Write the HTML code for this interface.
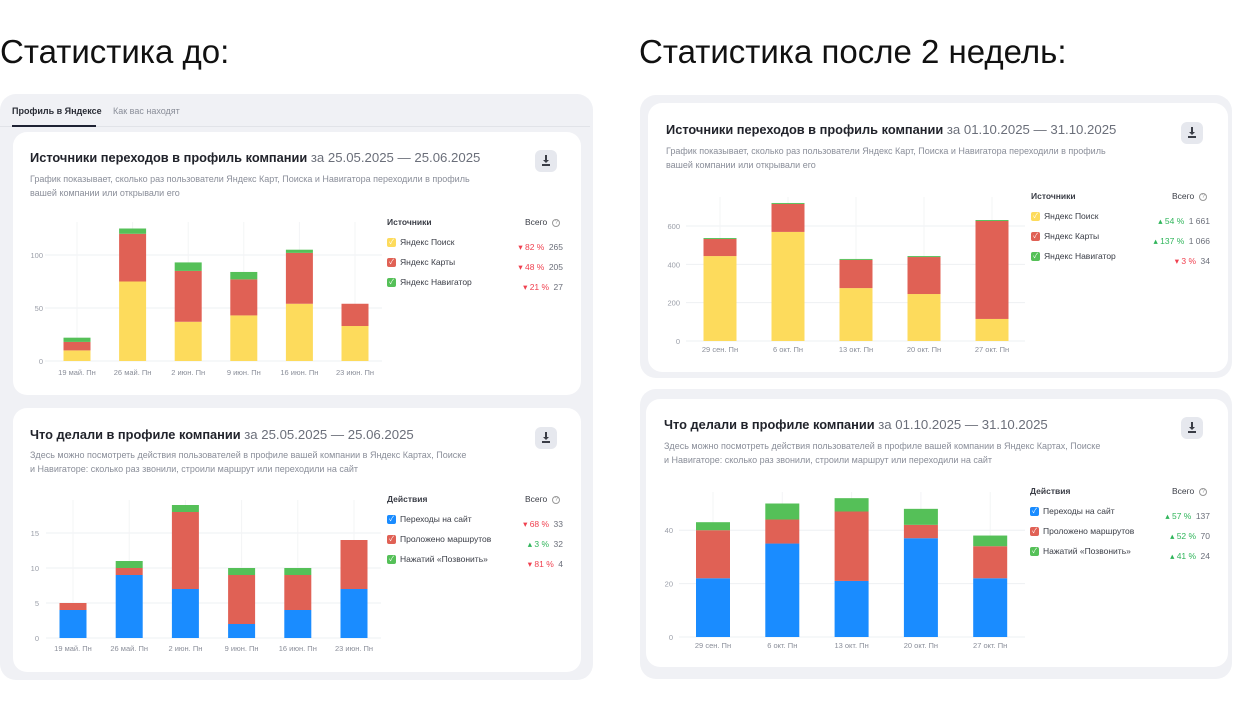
<!DOCTYPE html>
<html><head><meta charset="utf-8">
<style>
*{margin:0;padding:0;box-sizing:border-box}
body{width:1260px;height:706px;background:#fff;position:relative;overflow:hidden;font-family:"Liberation Sans","Noto Sans CJK SC",sans-serif;color:#21232b}
.abs{position:absolute;white-space:nowrap}
.h1{font-size:33px;color:#111;top:33px}
.panel{position:absolute;background:#f0f1f5;border-radius:16px}
.card{position:absolute;background:#fff;border-radius:14px}
.title{font-size:12.8px;font-weight:bold;color:#21232b}
.title span{font-weight:normal;color:#6b6f7a;font-size:13.2px}
.sub{font-size:9px;color:#8a8e99;line-height:14px}
.dl{position:absolute;width:22px;height:22px;border-radius:6px;background:#e6e8ee}
.dl i{position:absolute;left:7px;top:5px;width:8px;height:11px;border-bottom:2px solid #3a3d46}
.dl i:before{content:"";position:absolute;left:3px;top:0;width:2px;height:6px;background:#3a3d46}
.dl i:after{content:"";position:absolute;left:1px;top:5px;border-left:3px solid transparent;border-right:3px solid transparent;border-top:3px solid #3a3d46}
.lh{font-size:8.5px;font-weight:bold;color:#3a3d46}
.li{font-size:8.5px;color:#3a3d46}
.cb{position:absolute;width:9px;height:9px;border-radius:2px;color:#fff;font-size:7px;line-height:9px;text-align:center}
.pct{font-size:8.5px}
.up{color:#2fb55a}.dn{color:#f0404f}
.val{font-size:8.5px;color:#6b6f7a}
.q{display:inline-block;width:8px;height:8px;border:1px solid #999;border-radius:50%;font-size:6px;line-height:6px;text-align:center;color:#999;margin-left:5px;vertical-align:middle}
</style></head><body>
<div class="abs h1" style="left:0">Статистика до:</div>
<div class="abs h1" style="left:639px">Статистика после 2 недель:</div>

<div class="panel" style="left:0;top:94px;width:593px;height:586px"></div>
<div class="abs" style="left:12px;top:106px;font-size:9px;font-weight:bold;color:#2a2d36">Профиль в Яндексе</div>
<div class="abs" style="left:113px;top:106px;font-size:9px;color:#8a8e99">Как вас находят</div>
<div class="abs" style="left:0;top:126px;width:590px;height:1px;background:#e1e3e8"></div>
<div class="abs" style="left:12px;top:125px;width:84px;height:2px;background:#1e2233"></div>

<div class="card" style="left:13px;top:132px;width:568px;height:263px"></div>
<div class="card" style="left:13px;top:408px;width:568px;height:264px"></div>

<div class="panel" style="left:640px;top:95px;width:592px;height:283px"></div>
<div class="card" style="left:648px;top:103px;width:580px;height:269px"></div>
<div class="panel" style="left:640px;top:389px;width:592px;height:290px"></div>
<div class="card" style="left:646px;top:399px;width:582px;height:268px"></div>

<div class="abs title" style="left:30px;top:150px">Источники переходов в профиль компании <span>за 25.05.2025 — 25.06.2025</span></div>
<div class="abs sub" style="left:30px;top:172px">График показывает, сколько раз пользователи Яндекс Карт, Поиска и Навигатора переходили в профиль<br>вашей компании или открывали его</div>
<div class="dl" style="left:535px;top:150px"><i></i></div>

<div class="abs title" style="left:30px;top:427px">Что делали в профиле компании <span>за 25.05.2025 — 25.06.2025</span></div>
<div class="abs sub" style="left:30px;top:448px">Здесь можно посмотреть действия пользователей в профиле вашей компании в Яндекс Картах, Поиске<br>и Навигаторе: сколько раз звонили, строили маршрут или переходили на сайт</div>
<div class="dl" style="left:535px;top:427px"><i></i></div>

<div class="abs title" style="left:666px;top:122px">Источники переходов в профиль компании <span>за 01.10.2025 — 31.10.2025</span></div>
<div class="abs sub" style="left:666px;top:144px">График показывает, сколько раз пользователи Яндекс Карт, Поиска и Навигатора переходили в профиль<br>вашей компании или открывали его</div>
<div class="dl" style="left:1181px;top:122px"><i></i></div>

<div class="abs title" style="left:664px;top:417px">Что делали в профиле компании <span>за 01.10.2025 — 31.10.2025</span></div>
<div class="abs sub" style="left:664px;top:439px">Здесь можно посмотреть действия пользователей в профиле вашей компании в Яндекс Картах, Поиске<br>и Навигаторе: сколько раз звонили, строили маршрут или переходили на сайт</div>
<div class="dl" style="left:1181px;top:417px"><i></i></div>

<svg id="svg" width="1260" height="706" style="position:absolute;left:0;top:0"></svg>
<div id="legends"></div>

<script>
// Chart 1: sources before
const c1Cats=["19 май. Пн","26 май. Пн","2 июн. Пн","9 июн. Пн","16 июн. Пн","23 июн. Пн"];
const c1Search=[10,75,37,43,54,33];
const c1Maps=[8,45,48,34,48,21];
const c1Nav=[4,5,8,7,3,0];
const c1Ticks=[0,50,100];
// Chart 2: actions before
const c2Cats=["19 май. Пн","26 май. Пн","2 июн. Пн","9 июн. Пн","16 июн. Пн","23 июн. Пн"];
const c2Site=[4,9,7,2,4,7];
const c2Route=[1,1,11,7,5,7];
const c2Call=[0,1,1,1,1,0];
const c2Ticks=[0,5,10,15];
// Chart 3: sources after
const c3Cats=["29 сен. Пн","6 окт. Пн","13 окт. Пн","20 окт. Пн","27 окт. Пн"];
const c3Search=[443,569,276,245,115];
const c3Maps=[89,146,147,193,511];
const c3Nav=[5,5,5,5,5];
const c3Ticks=[0,200,400,600];
// Chart 4: actions after
const c4Cats=["29 сен. Пн","6 окт. Пн","13 окт. Пн","20 окт. Пн","27 окт. Пн"];
const c4Site=[22,35,21,37,22];
const c4Route=[18,9,26,5,12];
const c4Call=[3,6,5,6,4];
const c4Ticks=[0,20,40];

const Y='#fddb5c',R='#e06155',G='#55c058',B='#1a8cff';
const NS='http://www.w3.org/2000/svg';
const svg=document.getElementById('svg');
function mk(tag,attrs){const e=document.createElementNS(NS,tag);for(const k in attrs)e.setAttribute(k,attrs[k]);svg.appendChild(e);return e;}

function chart(cfg){
  const {x0,x1,y0,yTop,pxPerUnit,cats,series,colors,ticks,barW,firstC,step,labelX,labelY,name}=cfg;
  const yS=v=>y0-v*pxPerUnit;
  const xS=i=>firstC+i*step;
  ticks.forEach(t=>{
    const gl=mk('line',{x1:x0,x2:x1,y1:yS(t),y2:yS(t),stroke:'#eef0f3','stroke-width':1});
    
    
    const tl=mk('text',{x:labelX,y:yS(t)+3,'text-anchor':'end','font-size':7.5,fill:'#9a9ea8','font-family':'Liberation Sans, sans-serif'});
    tl.textContent=t;
    
    
  });
  cats.forEach((c,i)=>{
    const vl=mk('line',{x1:xS(i),x2:xS(i),y1:yTop,y2:y0,stroke:'#f3f4f6','stroke-width':1});
    
    
  });
  cats.forEach((c,i)=>{
    let acc=0;
    series.forEach((s,k)=>{
      const v=s[i];
      if(v>0){
        const r=mk('rect',{x:xS(i)-barW/2,y:yS(acc+v),width:barW,height:v*pxPerUnit,fill:colors[k]});
        
        
      }
      acc+=v;
    });
    const t=mk('text',{x:xS(i),y:labelY,'text-anchor':'middle','font-size':7.5,fill:'#8a8e99','font-family':'Liberation Sans, sans-serif'});
    t.textContent=c;
    
    
  });
}
chart({name:'sources-before',x0:45,x1:382,y0:361,yTop:222,pxPerUnit:1.06,cats:c1Cats,series:[c1Search,c1Maps,c1Nav],colors:[Y,R,G],ticks:c1Ticks,barW:27,firstC:77,step:55.6,labelX:43,labelY:375});
chart({name:'actions-before',x0:46,x1:381,y0:638,yTop:500,pxPerUnit:7,cats:c2Cats,series:[c2Site,c2Route,c2Call],colors:[B,R,G],ticks:c2Ticks,barW:27,firstC:73,step:56.2,labelX:39,labelY:651});
chart({name:'sources-after',x0:686,x1:1025,y0:341,yTop:197,pxPerUnit:0.1917,cats:c3Cats,series:[c3Search,c3Maps,c3Nav],colors:[Y,R,G],ticks:c3Ticks,barW:33,firstC:720,step:68,labelX:680,labelY:352});
chart({name:'actions-after',x0:679,x1:1025,y0:637,yTop:492,pxPerUnit:2.67,cats:c4Cats,series:[c4Site,c4Route,c4Call],colors:[B,R,G],ticks:c4Ticks,barW:34,firstC:713,step:69.3,labelX:673,labelY:648});

const L=document.getElementById('legends');
function legend(x,y,right,head,items){
  let h='<div class="abs lh" style="left:'+x+'px;top:'+(y-5)+'px">'+head+'</div>';
  h+='<div class="abs lh" style="left:'+(right-38)+'px;top:'+(y-5)+'px;font-weight:normal">Всего<span class="q">?</span></div>';
  items.forEach((it,i)=>{
    const yy=y+20*(i+1)-5;
    h+='<div class="cb" style="left:'+x+'px;top:'+(yy+1)+'px;background:'+it[1]+'">✓</div>';
    h+='<div class="abs li" style="left:'+(x+13)+'px;top:'+yy+'px">'+it[0]+'</div>';
    h+='<div class="abs" style="right:'+(1260-right)+'px;top:'+yy+'px;text-align:right"><span class="pct '+it[2]+'">'+(it[2]=='up'?'▴':'▾')+' '+it[3]+'</span> <span class="val">'+it[4]+'</span></div>';
  });
  L.insertAdjacentHTML('beforeend',h);
}
legend(387,222,563,'Источники',[['Яндекс Поиск',Y,'dn','82 %','265'],['Яндекс Карты',R,'dn','48 %','205'],['Яндекс Навигатор',G,'dn','21 %','27']]);
legend(387,499,563,'Действия',[['Переходы на сайт',B,'dn','68 %','33'],['Проложено маршрутов',R,'up','3 %','32'],['Нажатий «Позвонить»',G,'dn','81 %','4']]);
legend(1031,196,1210,'Источники',[['Яндекс Поиск',Y,'up','54 %','1 661'],['Яндекс Карты',R,'up','137 %','1 066'],['Яндекс Навигатор',G,'dn','3 %','34']]);
legend(1030,491,1210,'Действия',[['Переходы на сайт',B,'up','57 %','137'],['Проложено маршрутов',R,'up','52 %','70'],['Нажатий «Позвонить»',G,'up','41 %','24']]);
</script>
</body></html>
